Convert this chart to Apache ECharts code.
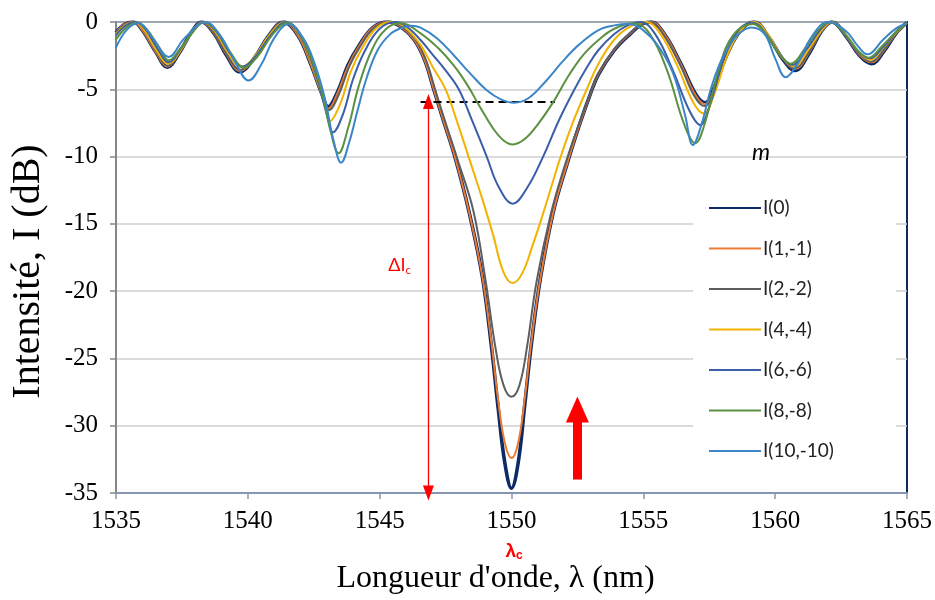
<!DOCTYPE html>
<html><head><meta charset="utf-8">
<script src="https://cdn.jsdelivr.net/npm/echarts/dist/echarts.min.js"></script>
<style>html,body{margin:0;padding:0;background:#fff}#c{width:935px;height:600px}</style>
</head><body><div id="c"></div>
<script>
// ---- data (wavelength nm, intensity dB) ----
const seriesNames = ['I(0)', 'I(1,-1)', 'I(2,-2)', 'I(4,-4)', 'I(6,-6)', 'I(8,-8)', 'I(10,-10)'];

const I0 = [[1535.0,-0.8],[1535.3,-0.2],[1535.65,0],[1536.0,-0.6],[1536.5,-2.2],[1536.95,-3.35],[1537.4,-2.3],[1537.85,-0.8],[1538.25,0],[1538.7,-0.8],[1539.2,-2.5],[1539.7,-3.7],[1540.2,-2.8],[1540.8,-1.0],[1541.35,0],[1541.9,-1.0],[1542.4,-3.2],[1542.8,-5.3],[1543.05,-6.3],[1543.4,-5.2],[1543.8,-3.2],[1544.2,-1.8],[1544.75,-0.4],[1545.3,0],[1545.8,-0.35],[1546.3,-1.3],[1546.7,-2.8],[1547.05,-5.0],[1547.4,-7.2],[1547.85,-10],[1548.4,-14.2],[1548.9,-19],[1549.25,-24.3],[1549.5,-28.8],[1549.75,-32.8],[1550.0,-34.65],[1550.25,-32.8],[1550.5,-28.5],[1550.75,-24],[1551.1,-19],[1551.6,-14],[1552.1,-10.6],[1552.55,-7.8],[1553.0,-5.3],[1553.3,-3.9],[1553.9,-2.1],[1554.5,-0.9],[1555.0,-0.1],[1555.3,0],[1555.8,-0.9],[1556.45,-3.2],[1557.0,-5.4],[1557.35,-6.0],[1557.7,-4.8],[1558.2,-2.3],[1558.7,-0.6],[1559.2,0],[1559.75,-1.1],[1560.3,-2.8],[1560.75,-3.6],[1561.3,-2.3],[1561.75,-0.7],[1562.15,0],[1562.7,-1.1],[1563.2,-2.5],[1563.65,-3.1],[1564.15,-2.1],[1564.6,-0.8],[1565.0,-0.05]];

const I1 = [[1535.0,-0.8],[1535.3,-0.2],[1535.65,0],[1536.0,-0.6],[1536.5,-2.2],[1536.95,-3.3],[1537.4,-2.3],[1537.85,-0.8],[1538.25,0],[1538.7,-0.8],[1539.2,-2.45],[1539.7,-3.65],[1540.2,-2.8],[1540.8,-1.0],[1541.35,0],[1541.9,-1.0],[1542.4,-3.2],[1542.8,-5.35],[1543.06,-6.42],[1543.4,-5.3],[1543.8,-3.3],[1544.2,-1.85],[1544.75,-0.4],[1545.3,0],[1545.8,-0.35],[1546.3,-1.3],[1546.7,-2.8],[1547.05,-5.0],[1547.4,-7.2],[1547.85,-10],[1548.4,-14.2],[1548.9,-19],[1549.25,-24],[1549.5,-28.2],[1549.75,-31.3],[1550.0,-32.4],[1550.25,-31.3],[1550.5,-28],[1550.75,-23.8],[1551.1,-19],[1551.6,-14],[1552.1,-10.6],[1552.55,-7.8],[1553.0,-5.3],[1553.3,-3.85],[1553.9,-2.05],[1554.5,-0.85],[1555.0,-0.1],[1555.3,0],[1555.8,-0.9],[1556.45,-3.25],[1557.0,-5.5],[1557.35,-6.1],[1557.7,-4.9],[1558.2,-2.3],[1558.7,-0.6],[1559.2,0],[1559.75,-1.1],[1560.3,-2.75],[1560.75,-3.5],[1561.3,-2.25],[1561.75,-0.7],[1562.15,0],[1562.7,-1.1],[1563.2,-2.45],[1563.65,-3.0],[1564.15,-2.05],[1564.6,-0.8],[1565.0,-0.05]];

const I2 = [[1535.0,-0.85],[1535.3,-0.25],[1535.7,0],[1536.05,-0.6],[1536.5,-2.1],[1536.97,-3.25],[1537.4,-2.25],[1537.85,-0.8],[1538.27,0],[1538.7,-0.75],[1539.2,-2.4],[1539.72,-3.55],[1540.2,-2.75],[1540.8,-1.0],[1541.38,0],[1541.95,-1.0],[1542.45,-3.25],[1542.85,-5.5],[1543.08,-6.55],[1543.45,-5.4],[1543.85,-3.3],[1544.25,-1.85],[1544.8,-0.4],[1545.35,0],[1545.85,-0.35],[1546.35,-1.3],[1546.75,-2.8],[1547.1,-5.0],[1547.45,-7.2],[1547.95,-10.2],[1548.55,-14],[1549.0,-19],[1549.4,-24.3],[1549.7,-27.0],[1550.0,-27.85],[1550.3,-27.0],[1550.6,-24],[1550.95,-19.3],[1551.5,-14.2],[1552.0,-10.8],[1552.5,-7.9],[1553.0,-5.3],[1553.3,-3.8],[1553.9,-2.0],[1554.5,-0.8],[1555.0,-0.1],[1555.25,0],[1555.75,-0.9],[1556.4,-3.2],[1556.95,-5.55],[1557.33,-6.25],[1557.7,-5.0],[1558.2,-2.3],[1558.7,-0.6],[1559.2,0],[1559.75,-1.05],[1560.3,-2.7],[1560.72,-3.45],[1561.3,-2.2],[1561.75,-0.7],[1562.15,0],[1562.7,-1.05],[1563.2,-2.4],[1563.63,-2.95],[1564.15,-2.0],[1564.6,-0.8],[1565.0,-0.05]];

const I4 = [[1535.0,-0.9],[1535.35,-0.25],[1535.7,0],[1536.05,-0.55],[1536.5,-2.0],[1536.98,-3.1],[1537.45,-2.1],[1537.9,-0.7],[1538.3,0],[1538.75,-0.7],[1539.25,-2.3],[1539.75,-3.35],[1540.25,-2.6],[1540.85,-0.9],[1541.42,0],[1542.0,-1.1],[1542.5,-3.5],[1542.9,-6.0],[1543.12,-7.36],[1543.5,-6.1],[1543.9,-3.7],[1544.35,-1.9],[1544.9,-0.4],[1545.45,0],[1545.9,-0.3],[1546.55,-1.7],[1547.0,-3.3],[1547.5,-5.0],[1547.95,-7.5],[1548.37,-10],[1548.9,-13.2],[1549.3,-15.8],[1549.7,-18.6],[1550.05,-19.4],[1550.4,-18.7],[1550.8,-16.6],[1551.3,-13.6],[1551.8,-10.4],[1552.3,-7.6],[1552.9,-4.8],[1553.3,-3.1],[1553.9,-1.3],[1554.5,-0.35],[1555.1,0],[1555.65,-0.9],[1556.3,-3.3],[1556.9,-6.0],[1557.3,-6.8],[1557.7,-5.3],[1558.2,-2.4],[1558.7,-0.6],[1559.2,0],[1559.75,-1.0],[1560.25,-2.6],[1560.7,-3.3],[1561.25,-2.1],[1561.75,-0.65],[1562.15,0],[1562.7,-1.0],[1563.2,-2.3],[1563.6,-2.8],[1564.1,-1.9],[1564.6,-0.75],[1565.0,-0.05]];

const I6 = [[1535.0,-1.0],[1535.35,-0.3],[1535.75,0],[1536.1,-0.5],[1536.55,-1.9],[1537.0,-3.0],[1537.45,-2.0],[1537.9,-0.7],[1538.32,0],[1538.8,-0.7],[1539.3,-2.25],[1539.8,-3.3],[1540.3,-2.55],[1540.9,-0.9],[1541.45,0],[1542.05,-1.2],[1542.6,-4.0],[1543.0,-6.9],[1543.23,-8.2],[1543.6,-6.9],[1544.0,-4.2],[1544.45,-2.1],[1545.0,-0.5],[1545.6,0],[1546.0,-0.3],[1546.55,-1.34],[1547.0,-2.4],[1547.5,-3.6],[1548.0,-5.0],[1548.5,-7.3],[1549.06,-10],[1549.5,-12.2],[1550.05,-13.5],[1550.6,-12.3],[1551.2,-10],[1551.8,-7.3],[1552.39,-5],[1552.85,-3.4],[1553.3,-2.08],[1553.9,-0.9],[1554.4,-0.25],[1554.9,0],[1555.45,-0.9],[1556.1,-3.5],[1556.75,-6.6],[1557.15,-7.65],[1557.55,-6.0],[1558.05,-2.7],[1558.6,-0.6],[1559.15,-0.05],[1559.7,-1.0],[1560.2,-2.5],[1560.65,-3.2],[1561.2,-2.0],[1561.7,-0.6],[1562.1,0],[1562.65,-0.95],[1563.15,-2.2],[1563.58,-2.7],[1564.1,-1.85],[1564.6,-0.7],[1565.0,-0.05]];

const I8 = [[1535.0,-1.3],[1535.4,-0.4],[1535.8,-0.05],[1536.15,-0.5],[1536.6,-1.8],[1537.0,-2.85],[1537.45,-1.95],[1537.95,-0.65],[1538.35,0],[1538.85,-0.75],[1539.35,-2.3],[1539.85,-3.4],[1540.35,-2.6],[1540.95,-0.9],[1541.5,-0.05],[1542.1,-1.3],[1542.75,-4.8],[1543.15,-8.2],[1543.44,-9.76],[1543.8,-7.9],[1544.2,-4.8],[1544.7,-2.1],[1545.25,-0.5],[1545.8,-0.1],[1546.55,-0.84],[1547.2,-1.9],[1547.8,-3.2],[1548.3,-4.6],[1548.8,-6.3],[1549.3,-7.9],[1549.7,-8.8],[1550.05,-9.1],[1550.5,-8.7],[1551.0,-7.6],[1551.6,-5.9],[1552.1,-4.2],[1552.7,-2.5],[1553.3,-1.34],[1553.9,-0.5],[1554.65,-0.1],[1555.25,-0.9],[1555.9,-3.6],[1556.55,-7.6],[1556.97,-9.0],[1557.35,-7.4],[1557.85,-3.6],[1558.4,-1.0],[1559.15,-0.15],[1559.65,-0.9],[1560.15,-2.4],[1560.6,-3.1],[1561.15,-1.9],[1561.65,-0.55],[1562.1,0],[1562.65,-0.9],[1563.15,-2.15],[1563.55,-2.65],[1564.05,-1.8],[1564.6,-0.7],[1565.0,-0.05]];

const I10 = [[1535.0,-1.9],[1535.4,-0.6],[1535.85,-0.1],[1536.4,-1.2],[1537.0,-2.6],[1537.6,-1.2],[1538.4,0],[1538.95,-1.0],[1539.5,-2.9],[1540.03,-4.35],[1540.5,-3.2],[1541.0,-1.2],[1541.55,-0.15],[1542.1,-1.2],[1542.5,-2.9],[1542.9,-5.5],[1543.25,-8.8],[1543.54,-10.45],[1543.85,-8.9],[1544.17,-6.5],[1544.5,-4.2],[1544.92,-2.1],[1545.4,-0.9],[1545.8,-0.45],[1546.2,-0.28],[1546.55,-0.42],[1547.17,-1.2],[1547.8,-2.45],[1548.42,-3.8],[1549.05,-5.05],[1549.6,-5.75],[1550.1,-6.0],[1550.65,-5.65],[1551.3,-4.4],[1551.93,-2.95],[1552.55,-1.7],[1553.3,-0.6],[1553.9,-0.25],[1554.45,-0.15],[1555.2,-0.97],[1555.83,-2.6],[1556.2,-4.2],[1556.58,-6.9],[1556.88,-9.14],[1557.2,-7.65],[1557.57,-4.9],[1557.9,-3.1],[1558.2,-1.96],[1558.6,-0.9],[1559.1,-0.4],[1559.6,-0.9],[1560.0,-2.7],[1560.4,-4.1],[1560.85,-3.1],[1561.35,-1.2],[1562.0,0],[1562.7,-0.7],[1563.1,-1.7],[1563.5,-2.4],[1564.1,-1.3],[1564.6,-0.45],[1565.0,-0.1]];

// annotation values
const dashedLevel = -5.9;
const dashedRange = [1546.55, 1551.65];
const deltaArrowX = 1546.85;
const deltaArrowRange = [-5.9, -35];
const deltaLabelPos = [1545.75, -18.1];
const bigArrowX = 1552.5;
const bigArrowRange = [-34.0, -28.8];
const lambdaC = 1550;

// ---- styling ----
const allData = [I0, I1, I2, I4, I6, I8, I10];
const colors = ['#0c2a66', '#ec7a32', '#5e5e5e', '#f2b200', '#3b5ea8', '#5b9140', '#3b86c8'];
const widths = [3.6, 2, 2, 2, 2, 2, 2];

const chart = echarts.init(document.getElementById('c'), null, {renderer: 'canvas'});

const series = allData.map((d, i) => ({
  name: seriesNames[i], type: 'line', data: d, smooth: 0.4,
  symbol: 'none', showSymbol: false, clip: true,
  lineStyle: {color: colors[i], width: widths[i]}, itemStyle: {color: colors[i]},
  emphasis: {disabled: true}, z: 2 + i
}));

series.push({
  name: 'annot', type: 'line', data: [], silent: true, z: 20,
  markLine: {
    silent: true, animation: false,
    label: {show: false},
    data: [
      [{coord: [dashedRange[0], dashedLevel], symbol: 'none', lineStyle: {color: '#000', width: 2, type: [8, 5]}},
       {coord: [dashedRange[1], dashedLevel], symbol: 'none'}],
      [{coord: [deltaArrowX, deltaArrowRange[0]], symbol: 'triangle', symbolSize: [11, 15], lineStyle: {color: '#ff0000', width: 1.3, type: 'solid'}},
       {coord: [deltaArrowX, deltaArrowRange[1]], symbol: 'triangle', symbolSize: [11, 15]}],
      [{coord: [bigArrowX, bigArrowRange[0]], symbol: 'none', lineStyle: {color: '#ff0000', width: 9, type: 'solid'}},
       {coord: [bigArrowX, bigArrowRange[1]], symbol: 'triangle', symbolSize: [23, 26]}]
    ]
  },
  markPoint: {
    silent: true, animation: false, symbolSize: 0,
    data: [{coord: deltaLabelPos, symbol: 'circle', symbolSize: 1,
      itemStyle: {color: 'transparent'},
      label: {show: true, position: 'inside', formatter: '{a|ΔI}{b|c}',
        rich: {a: {fontFamily: 'Lato', fontSize: 18, color: '#ff0000'},
               b: {fontFamily: 'Lato', fontSize: 11, color: '#ff0000', verticalAlign: 'bottom', padding: [9, 0, 0, 0]}}}}]
  }
});

const option = {
  animation: false,
  backgroundColor: '#ffffff',
  grid: {left: 113, right: 25, top: 22, bottom: 107, show: true, borderColor: '#102a5e', borderWidth: 2, backgroundColor: 'transparent'},
  xAxis: {
    type: 'value', min: 1535, max: 1565, interval: 5,
    name: "Longueur d'onde, λ (nm)", nameLocation: 'middle', nameGap: 70,
    nameTextStyle: {fontFamily: 'Liberation Serif', fontSize: 32, color: '#000', padding: [0, 32, 0, 0]},
    axisLine: {show: true, onZero: false, lineStyle: {color: '#8696b2', width: 2}},
    axisTick: {show: true, length: 6, lineStyle: {color: '#8696b2', width: 1.5}},
    axisLabel: {fontFamily: 'Liberation Serif', fontSize: 25, color: '#000', margin: 16, formatter: v => String(v)},
    splitLine: {show: false}
  },
  yAxis: {
    type: 'value', min: -35, max: 0, interval: 5,
    name: 'Intensité, I (dB)', nameLocation: 'middle', nameGap: 68, nameRotate: 90,
    nameTextStyle: {fontFamily: 'Liberation Serif', fontSize: 40, color: '#000', padding: [0, 28, 0, 0]},
    axisLine: {show: true, onZero: false, lineStyle: {color: '#868686', width: 2}},
    axisTick: {show: true, length: 6, lineStyle: {color: '#868686', width: 1.5}},
    axisLabel: {fontFamily: 'Liberation Serif', fontSize: 25, color: '#000', margin: 18},
    splitLine: {show: true, lineStyle: {color: '#cfcfcf', width: 1.5}}
  },
  legend: {
    data: seriesNames, orient: 'vertical', left: 693, top: 168,
    backgroundColor: '#ffffff', padding: [30, 62, 9, 15],
    itemWidth: 52, itemHeight: 20, itemGap: 20.5,
    itemStyle: {opacity: 0},
    textStyle: {fontFamily: 'Lato', fontSize: 19, color: '#222', lineHeight: 20, padding: [0, 0, 0, -3]},
    selectedMode: false
  },
  series: series
};
chart.setOption(option);

const cPx = chart.convertToPixel({xAxisIndex: 0, yAxisIndex: 0}, [lambdaC, -35]);
chart.setOption({
  graphic: [
    {type: 'text', left: 752, top: 141, z: 50,
     style: {text: 'm', fontFamily: 'Lato', fontStyle: 'italic', fontSize: 23, fill: '#000'}},
    {type: 'text', x: cPx[0] - 6, y: cPx[1] + 48, z: 50,
     style: {text: '{a|λ}{b|c}', rich: {
       a: {fontFamily: 'Liberation Sans', fontWeight: 'bold', fontSize: 19, fill: '#ff0000'},
       b: {fontFamily: 'Liberation Sans', fontWeight: 'bold', fontSize: 12, fill: '#ff0000', verticalAlign: 'bottom', padding: [9, 0, 0, 0]}}}}
  ]
});
</script></body></html>
